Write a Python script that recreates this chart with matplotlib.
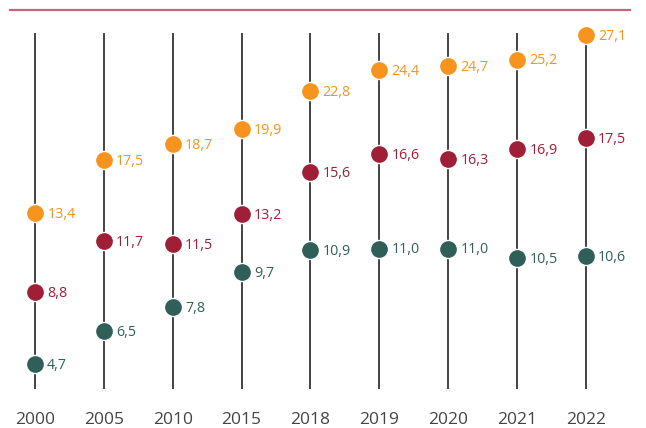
import matplotlib
matplotlib.use("Agg")
import matplotlib.pyplot as plt
import numpy as np

years = ["2000", "2005", "2010", "2015", "2018", "2019", "2020", "2021", "2022"]
upper = [13.4, 17.5, 18.7, 19.9, 22.8, 24.4, 24.7, 25.2, 27.1]
middle = [8.8, 11.7, 11.5, 13.2, 15.6, 16.6, 16.3, 16.9, 17.5]
lower = [4.7, 6.5, 7.8, 9.7, 10.9, 11.0, 11.0, 10.5, 10.6]

plt.rcParams['font.family'] = ['Open Sans', 'DejaVu Sans']

# each series sits on its own scale, like in the original graphic
series = [
    (upper, "#F7941D", (-0.9, 29.0)),
    (middle, "#9E1F36", (2.70, 24.73)),
    (lower, "#2F5F58", (2.75, 24.0)),
]

fig = plt.figure(figsize=(6.46, 4.28), dpi=100)
ax = fig.add_axes([10 / 646, 28 / 428, 620 / 646, 390 / 428])
x = np.arange(len(years))
ax.set_xlim(-0.363, 8.639)
ax.set_ylim(0, 1)

for side in ['left', 'right', 'bottom']:
    ax.spines[side].set_visible(False)
ax.spines['top'].set_color('#C4657A')
ax.spines['top'].set_linewidth(1.6)
ax.set_yticks([])
ax.set_xticks(x)
ax.set_xticklabels(years, fontsize=12.5, color='#444444')
ax.tick_params(axis='x', length=0, pad=9)

ax.vlines(x, 0.028, 0.941, color='#111111', linewidth=1.1, zorder=1)

for vals, col, lim in series:
    tw = ax.twinx()
    tw.set_ylim(*lim)
    tw.axis('off')
    tw.scatter(x, vals, s=170, color=col, edgecolor='white', linewidth=1.0, zorder=3)
    for xi, v in zip(x, vals):
        tw.annotate(f"{v:.1f}".replace('.', ','), (xi, v), xytext=(8.8, -1),
                    textcoords='offset points', va='center', ha='left',
                    fontsize=10.3, color=col)

fig.savefig("out.png", dpi=100)
